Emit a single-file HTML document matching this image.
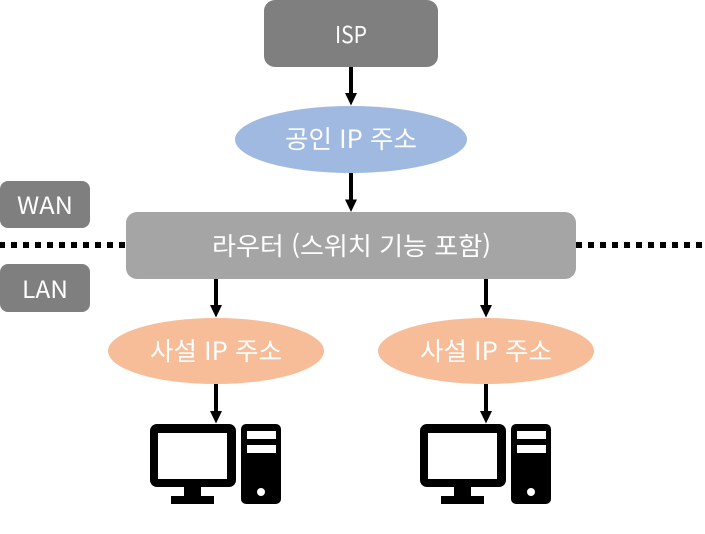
<!DOCTYPE html>
<html lang="ko">
<head>
<meta charset="utf-8">
<style>
html,body{margin:0;padding:0;background:#fff;}
svg{display:block;}
text{font-family:"Noto Sans CJK KR","NanumGothic",sans-serif;font-size:25px;fill:#fff;text-anchor:middle;}
</style>
</head>
<body>
<svg width="705" height="534" viewBox="0 0 705 534" xmlns="http://www.w3.org/2000/svg">
<defs>
<g id="pc">
<rect x="150" y="424" width="86" height="63" rx="7" fill="#000"/>
<rect x="158" y="433" width="69" height="46" fill="#fff"/>
<rect x="184" y="487" width="17" height="10" fill="#000"/>
<rect x="171" y="496" width="43" height="8" fill="#000"/>
<rect x="241" y="424" width="40" height="80" rx="5" fill="#000"/>
<rect x="247" y="431" width="29" height="8" fill="#fff"/>
<rect x="247" y="445" width="29" height="8" fill="#fff"/>
<circle cx="261" cy="492" r="4" fill="#fff"/>
</g>
</defs>
<line x1="0" y1="245" x2="126" y2="245" stroke="#000" stroke-width="6" stroke-dasharray="6 6" stroke-dashoffset="1"/>
<line x1="576" y1="245" x2="702" y2="245" stroke="#000" stroke-width="6" stroke-dasharray="6 6"/>
<rect x="264" y="0" width="174" height="67" rx="11" fill="#7f7f7f"/>
<ellipse cx="351" cy="139.5" rx="116" ry="33.5" fill="#a0b9e0"/>
<rect x="126" y="212" width="450" height="67" rx="11" fill="#a5a5a5"/>
<rect x="0" y="181" width="90" height="47" rx="8" fill="#7f7f7f"/>
<rect x="0" y="264" width="90" height="48" rx="8" fill="#7f7f7f"/>
<ellipse cx="216" cy="351" rx="108" ry="33" fill="#f6bd98"/>
<ellipse cx="486" cy="351" rx="108" ry="33" fill="#f6bd98"/>
<g fill="#000">
<rect x="349" y="67" width="4" height="27"/><polygon points="345,93 357,93 351,105.5"/>
<rect x="349" y="173" width="4" height="27"/><polygon points="345,199.5 357,199.5 351,212"/>
<rect x="214" y="279" width="4" height="27"/><polygon points="210,305 222,305 216,317.5"/>
<rect x="484" y="279" width="4" height="27"/><polygon points="480,305 492,305 486,317.5"/>
<rect x="214" y="384" width="4" height="28"/><polygon points="210,411 222,411 216,423.5"/>
<rect x="484" y="384" width="4" height="28"/><polygon points="480,411 492,411 486,423.5"/>
</g>
<use href="#pc"/>
<use href="#pc" x="270"/>
<text x="351" y="43" style="font-size:23px" textLength="32" lengthAdjust="spacingAndGlyphs">ISP</text>
<text x="351" y="148" textLength="132" lengthAdjust="spacingAndGlyphs">공인 IP 주소</text>
<text x="351.5" y="255" textLength="279" lengthAdjust="spacingAndGlyphs">라우터 (스위치 기능 포함)</text>
<text x="45" y="214" style="font-size:24px" textLength="56" lengthAdjust="spacingAndGlyphs">WAN</text>
<text x="45" y="298" style="font-size:24px" textLength="46" lengthAdjust="spacingAndGlyphs">LAN</text>
<text x="216" y="360" textLength="132" lengthAdjust="spacingAndGlyphs">사설 IP 주소</text>
<text x="486" y="360" textLength="132" lengthAdjust="spacingAndGlyphs">사설 IP 주소</text>
</svg>
</body>
</html>
